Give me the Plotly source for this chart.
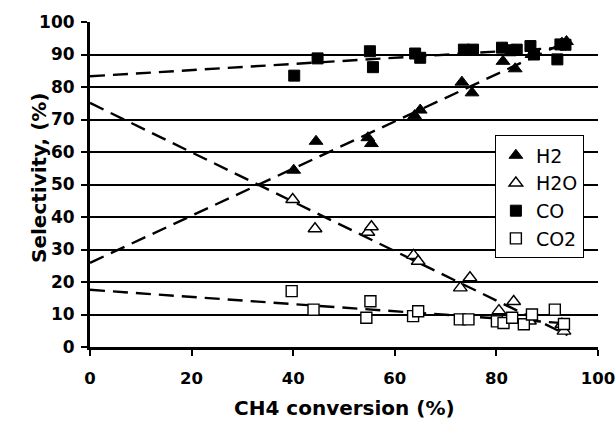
import plotly.graph_objects as go
import numpy as np

# ---- data ----
h2_x = [40.1, 44.5, 54.7, 55.4, 63.9, 65.0, 73.2, 75.2, 81.3, 83.7, 87.0, 92.9, 93.8]
h2_y = [54.4, 63.3, 64.4, 62.6, 71.2, 72.9, 81.5, 78.2, 87.9, 85.6, 90.0, 93.5, 94.0]

h2o_x = [39.9, 44.3, 54.7, 55.4, 63.7, 64.6, 72.9, 74.8, 80.5, 83.4, 86.5, 92.9, 93.3]
h2o_y = [45.4, 36.4, 35.3, 37.0, 28.2, 26.4, 18.2, 21.3, 11.2, 14.0, 8.0, 7.0, 4.9]

co_x = [40.2, 44.8, 55.1, 55.7, 64.0, 65.0, 73.6, 75.4, 81.1, 82.8, 84.0, 86.7, 87.4, 92.0, 92.6, 93.6]
co_y = [83.5, 88.8, 91.0, 86.1, 90.3, 89.0, 91.5, 91.5, 92.1, 91.3, 91.5, 92.6, 90.0, 88.5, 93.1, 93.0]

co2_x = [39.7, 44.0, 54.4, 55.2, 63.6, 64.6, 72.8, 74.5, 80.1, 81.4, 83.1, 85.4, 87.0, 91.5, 93.3]
co2_y = [17.2, 11.5, 9.0, 14.1, 9.5, 11.0, 8.5, 8.5, 7.9, 7.4, 9.0, 7.0, 10.0, 11.5, 7.1]

# dashed trend lines: [intercept, slope], drawn over trend_x
trend_x = [0, 94]
h2_fit = [25.9, 0.725]
h2o_fit = [75.1, -0.76]
co_fit = [83.3, 0.095]
co2_fit = [17.6, -0.11]

x_ticks = [0, 20, 40, 60, 80, 100]
y_ticks = [0, 10, 20, 30, 40, 50, 60, 70, 80, 90, 100]

x_title = "CH4 conversion (%)"
y_title = "Selectivity, (%)"

FONT = "DejaVu Sans, sans-serif"

fig = go.Figure()

def line(fit):
    xs = np.array(trend_x, dtype=float)
    return xs, fit[0] + fit[1] * xs

for fit in [co_fit, h2_fit, h2o_fit, co2_fit]:
    xs, ys = line(fit)
    fig.add_trace(go.Scatter(x=xs, y=ys, mode="lines", showlegend=False,
                             line=dict(color="black", width=2.4, dash="15px,8px"),
                             hoverinfo="skip"))

fig.add_trace(go.Scatter(x=h2_x, y=h2_y, mode="markers", name="H2",
                         marker=dict(symbol="triangle-up", size=12, color="black",
                                     line=dict(color="black", width=1))))
fig.add_trace(go.Scatter(x=h2o_x, y=h2o_y, mode="markers", name="H2O",
                         marker=dict(symbol="triangle-up", size=12, color="white",
                                     line=dict(color="black", width=1.4))))
fig.add_trace(go.Scatter(x=co_x, y=co_y, mode="markers", name="CO",
                         marker=dict(symbol="square", size=11, color="black",
                                     line=dict(color="black", width=1))))
fig.add_trace(go.Scatter(x=co2_x, y=co2_y, mode="markers", name="CO2",
                         marker=dict(symbol="square", size=11, color="white",
                                     line=dict(color="black", width=1.4))))

fig.update_layout(
    width=615, height=421,
    margin=dict(l=90, r=17, t=22, b=74),
    paper_bgcolor="white", plot_bgcolor="white",
    font=dict(family=FONT, color="black"),
    showlegend=True,
    legend=dict(x=0.797, y=0.651, xanchor="left", yanchor="top",
                bordercolor="black", borderwidth=1, bgcolor="white",
                font=dict(size=19, family=FONT), tracegroupgap=0,
                itemwidth=30),
    xaxis=dict(range=[0, 100], tickvals=x_ticks, ticktext=[str(v) for v in x_ticks],
               showgrid=False, zeroline=False, showline=True, linecolor="black",
               linewidth=3, ticks="outside", ticklen=6, tickwidth=2, tickcolor="black",
               tickfont=dict(size=16.5, family=FONT, weight="bold"),
               ticklabelstandoff=8, automargin=False, ticklabeloverflow="allow"),
    yaxis=dict(range=[0, 100], tickvals=y_ticks, ticktext=[str(v) for v in y_ticks],
               showgrid=True, gridcolor="black", gridwidth=1.8, zeroline=False,
               showline=True, linecolor="black", linewidth=3,
               ticks="outside", ticklen=6, tickwidth=2, tickcolor="black",
               tickfont=dict(size=17, family=FONT, weight="bold"),
               ticklabelstandoff=3, automargin=False, ticklabeloverflow="allow"),
    annotations=[
        dict(text="<b>" + x_title + "</b>", xref="paper", yref="paper", x=0.5, y=0,
             xanchor="center", yanchor="middle", yshift=-61, showarrow=False,
             font=dict(size=20, family=FONT)),
        dict(text="<b>" + y_title + "</b>", xref="paper", yref="paper", x=0, y=0.52,
             xanchor="center", yanchor="middle", xshift=-51, textangle=-90,
             showarrow=False, font=dict(size=20, family=FONT)),
    ],
)

fig.write_html("out.html")
